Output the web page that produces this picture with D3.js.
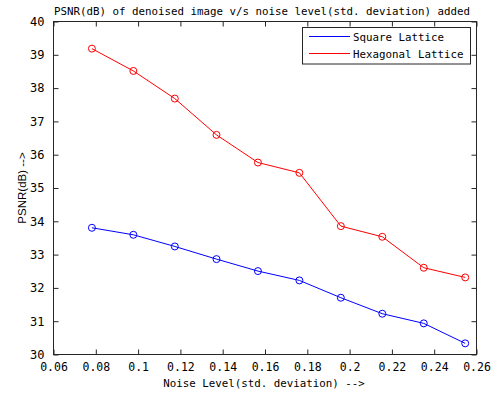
<!DOCTYPE html>
<html>
<head>
<meta charset="utf-8">
<script src="https://cdn.jsdelivr.net/npm/d3@7"></script>
<style>
  body { margin: 0; background: #fff; }
  text { font-family: "DejaVu Sans Mono", monospace; fill: #000; }
</style>
</head>
<body>
<script>
// noise std. deviation (k/255)
var noise = [0.0784, 0.098, 0.1176, 0.1373, 0.1569, 0.1765, 0.1961, 0.2157, 0.2353, 0.2549];
var squarePsnr = [33.79, 33.58, 33.23, 32.85, 32.49, 32.21, 31.69, 31.21, 30.92, 30.32];
var hexPsnr = [39.17, 38.50, 37.67, 36.58, 35.75, 35.44, 33.84, 33.52, 32.59, 32.30];
var xTicks = [0.06, 0.08, 0.1, 0.12, 0.14, 0.16, 0.18, 0.2, 0.22, 0.24, 0.26];
var yTicks = [30, 31, 32, 33, 34, 35, 36, 37, 38, 39, 40];
var seriesNames = ["Square Lattice", "Hexagonal Lattice"];
var seriesColors = ["#0000ff", "#ff0000"];

var W = 498, H = 398;
var pL = 53, pR = 476, pT = 21, pB = 354;
var axisCol = "#262626";

var svg = d3.select("body").append("svg")
  .attr("width", W).attr("height", H);

var x = d3.scaleLinear().domain([0.06, 0.26]).range([pL, pR]);
var y = d3.scaleLinear().domain([30, 40]).range([pB, pT]);

// axes box
svg.append("rect")
  .attr("x", pL + 0.5).attr("y", pT + 0.5)
  .attr("width", pR - pL).attr("height", pB - pT)
  .attr("fill", "none").attr("stroke", axisCol).attr("stroke-width", 1);

// ticks (inside, mirrored)
svg.append("g").attr("transform", "translate(0.5," + (pB + 0.5) + ")")
  .call(d3.axisBottom(x).tickValues(xTicks).tickSizeInner(-5).tickSizeOuter(0).tickPadding(8)
    .tickFormat(function(d) { return String(+d.toFixed(2)); }))
  .call(function(g) {
    g.select(".domain").remove();
    g.selectAll("line").attr("stroke", axisCol);
    g.selectAll("text").style("font-size", "11.5px").attr("font-family", "DejaVu Sans Mono").attr("fill", "#000");
  });
svg.append("g").attr("transform", "translate(0.5," + (pT + 0.5) + ")")
  .call(d3.axisTop(x).tickValues(xTicks).tickSizeInner(-5).tickSizeOuter(0).tickFormat(""))
  .call(function(g) { g.select(".domain").remove(); g.selectAll("line").attr("stroke", axisCol); });
svg.append("g").attr("transform", "translate(" + (pL + 0.5) + ",0.5)")
  .call(d3.axisLeft(y).tickValues(yTicks).tickSizeInner(-5).tickSizeOuter(0).tickPadding(9))
  .call(function(g) {
    g.select(".domain").remove();
    g.selectAll("line").attr("stroke", axisCol);
    g.selectAll("text").style("font-size", "12px").attr("font-family", "Liberation Sans").attr("fill", "#000");
  });
svg.append("g").attr("transform", "translate(" + (pR + 0.5) + ",0.5)")
  .call(d3.axisRight(y).tickValues(yTicks).tickSizeInner(-5).tickSizeOuter(0).tickFormat(""))
  .call(function(g) { g.select(".domain").remove(); g.selectAll("line").attr("stroke", axisCol); });

// title and labels
svg.append("text").attr("x", 262).attr("y", 15).attr("text-anchor", "middle")
  .style("font-size", "10.8px").text("PSNR(dB) of denoised image v/s noise level(std. deviation) added");
svg.append("text").attr("x", 264).attr("y", 387).attr("text-anchor", "middle")
  .style("font-size", "10.8px").text("Noise Level(std. deviation) -->");
svg.append("text").attr("transform", "translate(26,188) rotate(-90)").attr("text-anchor", "middle")
  .style("font-size", "11.5px").style("font-family", "Liberation Sans").text("PSNR(dB)  -->");

// series
var lineGen = d3.line().x(function(d) { return x(d[0]); }).y(function(d) { return y(d[1]); });
[squarePsnr, hexPsnr].forEach(function(vals, i) {
  var pts = noise.map(function(n, j) { return [n, vals[j]]; });
  svg.append("path").datum(pts).attr("d", lineGen)
    .attr("fill", "none").attr("stroke", seriesColors[i]).attr("stroke-width", 1);
  svg.selectAll("circle.s" + i).data(pts).enter().append("circle")
    .attr("class", "s" + i)
    .attr("cx", function(d) { return x(d[0]); })
    .attr("cy", function(d) { return y(d[1]); })
    .attr("r", 3.5)
    .attr("fill", "none").attr("stroke", seriesColors[i]).attr("stroke-width", 1);
});

// legend
var lg = svg.append("g");
lg.append("rect").attr("x", 302.5).attr("y", 27.5).attr("width", 168).attr("height", 36.5)
  .attr("fill", "#fff").attr("stroke", axisCol);
seriesNames.forEach(function(name, i) {
  var yy = 36.5 + i * 17;
  lg.append("path")
    .attr("d", "M309," + yy + "H350")
    .style("stroke", seriesColors[i]).style("stroke-width", "1px").style("fill", "none");
  lg.append("text").attr("x", 353).attr("y", yy + 4).style("font-size", "10.8px").text(name);
});
</script>
</body>
</html>
